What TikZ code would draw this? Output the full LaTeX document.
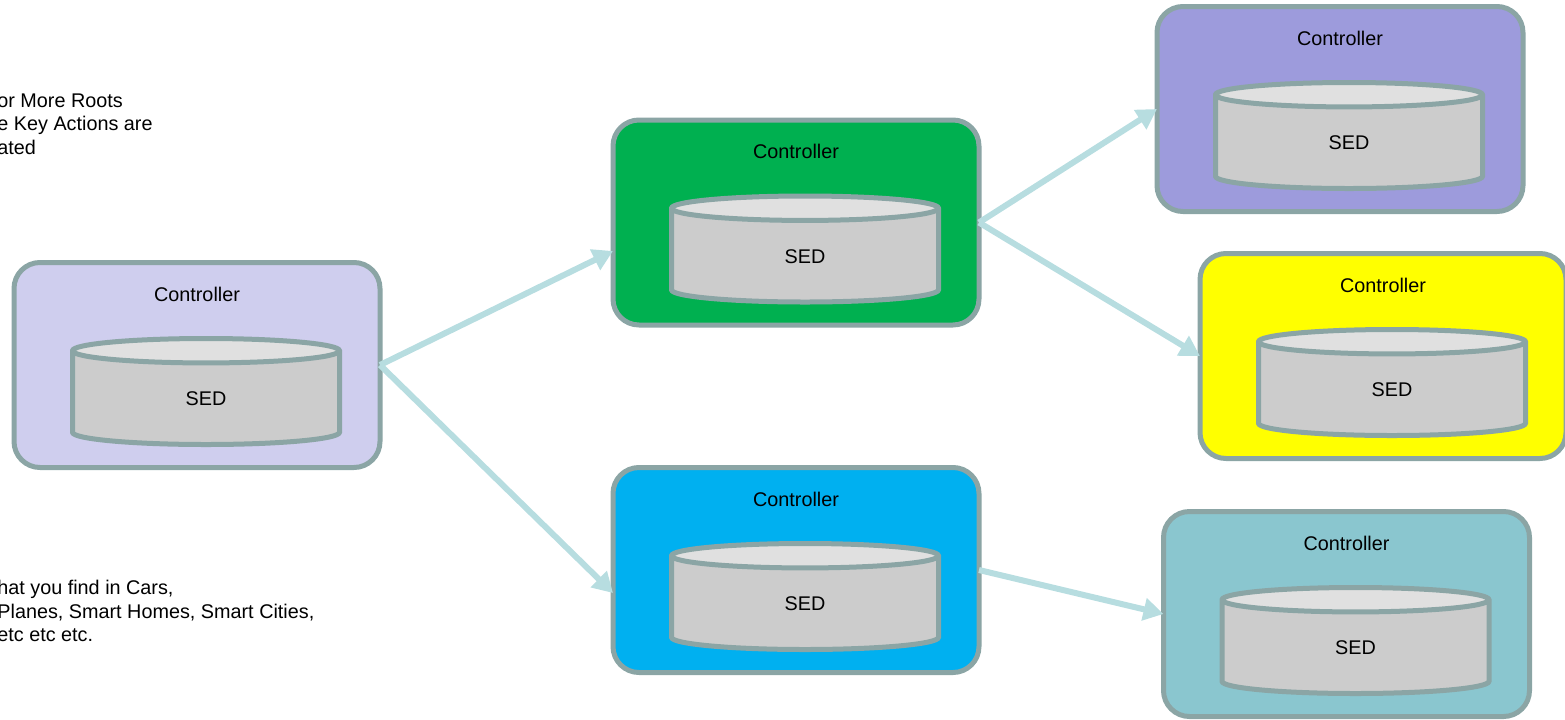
\documentclass[tikz,border=0pt]{standalone}
\usepackage{fontspec}
\setmainfont{Liberation Sans}
\usetikzlibrary{shapes.geometric, arrows.meta, positioning, calc}

\definecolor{edgegray}{RGB}{139,165,165}
\definecolor{flowblue}{RGB}{183,221,224}
\definecolor{sedbody}{RGB}{204,204,204}
\definecolor{sedtop}{RGB}{224,224,224}
\definecolor{rootfill}{RGB}{207,206,238}
\definecolor{greenfill}{RGB}{0,176,80}
\definecolor{purplefill}{RGB}{157,155,220}
\definecolor{yellowfill}{RGB}{255,255,0}
\definecolor{bluefill}{RGB}{0,176,240}
\definecolor{tealfill}{RGB}{138,198,207}

\begin{document}
\begin{tikzpicture}[
  x=0.5pt, y=-0.5pt,
  every node/.style={font=\fontsize{9.9}{11.75}\selectfont},
  ctrlbox/.style={rectangle, draw=edgegray, line width=2.5pt, rounded corners=13pt,
    minimum width=183pt, minimum height=102.5pt, outer sep=0pt},
  ctrltext/.style={inner sep=0pt},
  sed/.style={cylinder, shape border rotate=90, draw=edgegray, line width=2.5pt,
    cylinder uses custom fill, cylinder body fill=sedbody, cylinder end fill=sedtop,
    aspect=0.6, minimum width=133.5pt, minimum height=53pt, inner sep=0pt,
    anchor=shape center},
  note/.style={align=left, inner sep=0pt, anchor=north west},
  arrow/.style={-{Triangle[length=10pt, width=11pt]}, line width=3pt, draw=flowblue}
]
\useasboundingbox (0,0) rectangle (1565,719);

% side notes (cut off at the left edge)
\node[note] (noteTop) at (-3,93) {or More Roots\\e Key Actions are\\ated};
\node[note] (noteBottom) at (-3,580) {hat you find in Cars,\\Planes, Smart Homes, Smart Cities,\\etc etc etc.};

% controllers
\node[ctrlbox, fill=rootfill] (boxA) at (197,365) {};
\node[ctrltext, below=12pt of boxA.north] (ctrlA) {Controller};
\node[sed] (sedA) at ([xshift=4.5pt, yshift=-13.25pt]boxA.center) {SED};

\node[ctrlbox, fill=greenfill] (boxB) at (796,222.5) {};
\node[ctrltext, below=12pt of boxB.north] (ctrlB) {Controller};
\node[sed] (sedB) at ([xshift=4.5pt, yshift=-13.25pt]boxB.center) {SED};

\node[ctrlbox, fill=bluefill] (boxE) at (796,570) {};
\node[ctrltext, below=12pt of boxE.north] (ctrlE) {Controller};
\node[sed] (sedE) at ([xshift=4.5pt, yshift=-13.25pt]boxE.center) {SED};

\node[ctrlbox, fill=purplefill] (boxC) at (1340,109) {};
\node[ctrltext, below=12pt of boxC.north] (ctrlC) {Controller};
\node[sed] (sedC) at ([xshift=4.5pt, yshift=-13.25pt]boxC.center) {SED};

\node[ctrlbox, fill=yellowfill] (boxD) at (1383,356) {};
\node[ctrltext, below=12pt of boxD.north] (ctrlD) {Controller};
\node[sed] (sedD) at ([xshift=4.5pt, yshift=-13.25pt]boxD.center) {SED};

\node[ctrlbox, fill=tealfill] (boxF) at (1346.5,614) {};
\node[ctrltext, below=12pt of boxF.north] (ctrlF) {Controller};
\node[sed] (sedF) at ([xshift=4.5pt, yshift=-13.25pt]boxF.center) {SED};

% Arrows
\draw[arrow] (boxA.east) -- ($(boxB.west)+(0,28.5)$);
\draw[arrow] (boxA.east) -- ($(boxE.west)+(0,23)$);
\draw[arrow] (boxB.east) -- (boxC.west);
\draw[arrow] (boxB.east) -- (boxD.west);
\draw[arrow] (boxE.east) -- (boxF.west);

\end{tikzpicture}
\end{document}
